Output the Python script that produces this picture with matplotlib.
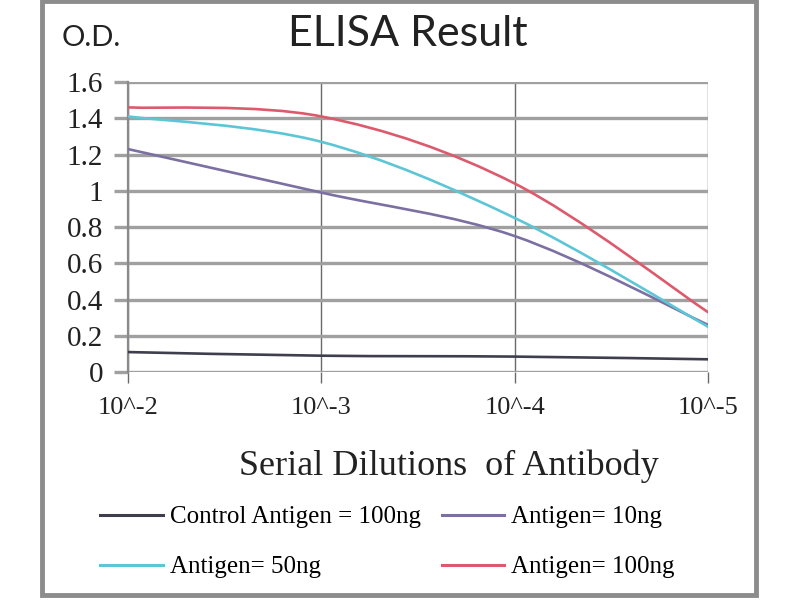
import matplotlib
matplotlib.use("Agg")
import matplotlib.pyplot as plt
from matplotlib.path import Path
from matplotlib.patches import PathPatch, Rectangle
from matplotlib.lines import Line2D

dilutions = ["10^-2", "10^-3", "10^-4", "10^-5"]
y_ticks = [0, 0.2, 0.4, 0.6, 0.8, 1, 1.2, 1.4, 1.6]
y_tick_labels = ["0", "0.2", "0.4", "0.6", "0.8", "1", "1.2", "1.4", "1.6"]

series_names = ["Control Antigen = 100ng", "Antigen= 10ng", "Antigen= 50ng", "Antigen= 100ng"]
control_100ng = [0.11, 0.09, 0.085, 0.07]
antigen_10ng = [1.23, 0.99, 0.75, 0.26]
antigen_50ng = [1.41, 1.27, 0.85, 0.25]
antigen_100ng = [1.46, 1.41, 1.04, 0.33]
series_values = [control_100ng, antigen_10ng, antigen_50ng, antigen_100ng]
colors = ["#3e3e4c", "#7c70a2", "#5cc6d6", "#dc5a6c"]

SERIF = ["Liberation Serif", "DejaVu Serif"]
SANS = ["Lato", "DejaVu Sans"]

fig = plt.figure(figsize=(8, 6), dpi=100)
ax = fig.add_axes([0.16, 0.38, 0.725, 0.4833])

def smooth_path(xs, ys):
    # Excel-style smoothed line: cubic Bezier through the data points
    verts = [(xs[0], ys[0])]
    codes = [Path.MOVETO]
    n = len(xs)
    for i in range(n - 1):
        p0 = (xs[max(i - 1, 0)], ys[max(i - 1, 0)])
        p1 = (xs[i], ys[i])
        p2 = (xs[i + 1], ys[i + 1])
        p3 = (xs[min(i + 2, n - 1)], ys[min(i + 2, n - 1)])
        c1 = (p1[0] + (p2[0] - p0[0]) / 6, p1[1] + (p2[1] - p0[1]) / 6)
        c2 = (p2[0] - (p3[0] - p1[0]) / 6, p2[1] - (p3[1] - p1[1]) / 6)
        verts += [c1, c2, p2]
        codes += [Path.CURVE4] * 3
    return Path(verts, codes)

xs = list(range(len(dilutions)))
for vals, col in zip(series_values, colors):
    patch = PathPatch(smooth_path(xs, vals), facecolor="none", edgecolor=col,
                      lw=1.9, zorder=3, capstyle="round")
    ax.add_patch(patch)

ax.set_xlim(0, 3)
ax.set_ylim(0, 1.6)
ax.set_xticks(xs)
ax.set_xticklabels(dilutions, fontsize=19, family=SERIF, color="#222222")
ax.set_yticks(y_ticks)
ax.set_yticklabels(y_tick_labels, fontsize=21, family=SERIF, color="#222222")

ax.grid(axis="y", color="#a0a0a0", lw=2.4, zorder=1)
ax.grid(axis="x", color="#6a6a6a", lw=1.0, zorder=1)
ax.tick_params(axis="y", length=10, width=2.4, color="#a0a0a0", pad=8)
ax.tick_params(axis="x", length=8, width=1.0, color="#6a6a6a", pad=10)
for s in ["top", "right", "bottom"]:
    ax.spines[s].set_visible(False)
ax.spines["left"].set_color("#8a8a8a")
ax.spines["left"].set_linewidth(1.6)
ax.set_axisbelow(True)

ax.set_xlabel("Serial Dilutions  of Antibody", fontsize=26, family=SERIF,
              color="#222222")
ax.xaxis.set_label_coords(0.553, -0.325)
ax.xaxis.label.set_va("center")

fig.text(0.51, 0.943, "ELISA Result", fontsize=31, family=SANS,
         color="#222222", ha="center", va="center")
fig.text(0.077, 0.936, "O.D.", fontsize=21, family=SANS,
         color="#222222", ha="left", va="center")

order = [0, 2, 1, 3]
handles = [Line2D([], [], color=colors[i], lw=2.2) for i in order]
labels = [series_names[i] for i in order]
fig.legend(handles, labels, loc="upper left", bbox_to_anchor=(0.125, 0.157),
           ncol=2, frameon=False, prop={"family": SERIF, "size": 18},
           handlelength=2.5, handletextpad=0.28, columnspacing=0.85,
           labelspacing=1.1, borderpad=0, borderaxespad=0)

fig.patches.append(Rectangle((0.053, 0.008), 0.892, 0.99, transform=fig.transFigure,
                             fill=False, edgecolor="#8c8c8c", lw=3.5))

fig.savefig("out.png", dpi=100)
